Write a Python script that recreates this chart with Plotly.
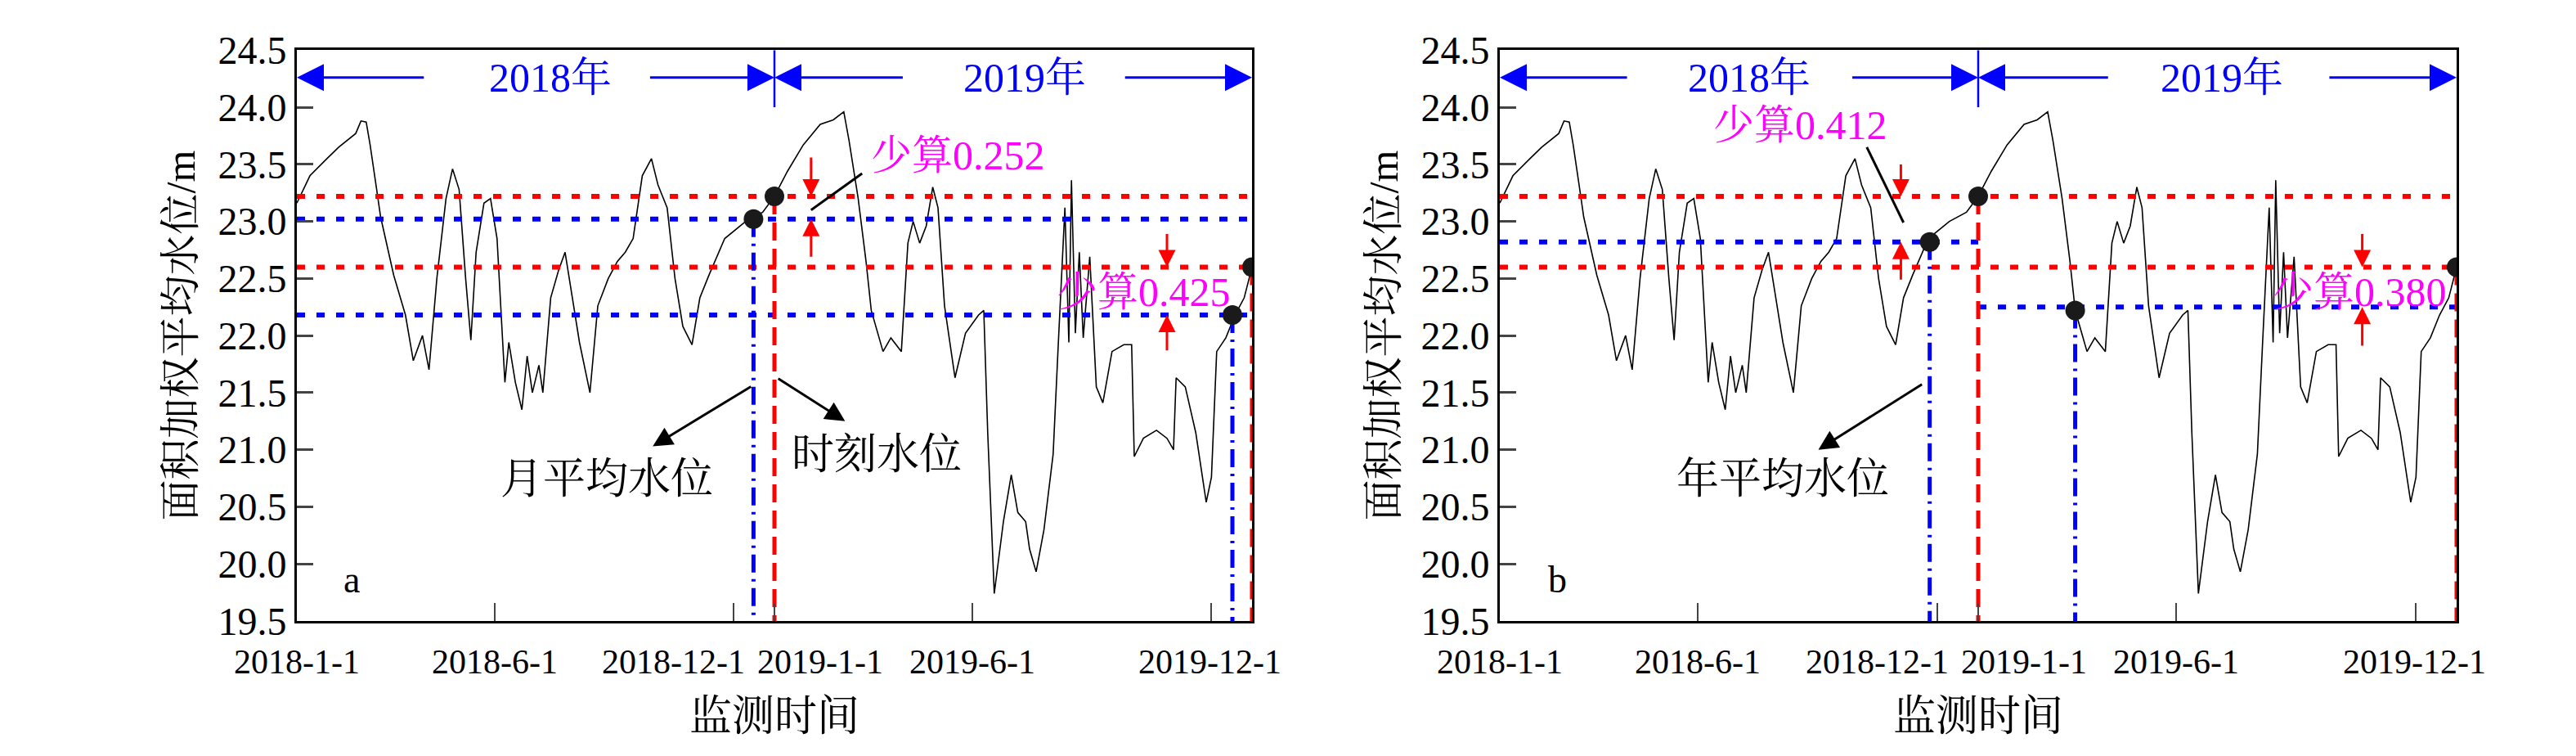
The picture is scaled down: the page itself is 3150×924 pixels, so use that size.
import plotly.graph_objects as go
from plotly.subplots import make_subplots

# days since 2018-01-01 and area-weighted mean water level (m)
days = [0, 10, 23, 32, 45, 49, 53, 56, 61, 64, 74, 83, 89, 96, 101, 107, 114, 119, 124, 129,
        133, 137, 143, 148, 153, 159, 162, 167, 172, 176, 180, 185, 188, 194, 200, 205, 210, 216,
        224, 230, 238, 245, 251, 257, 264, 271, 276, 283, 289, 295, 302, 308, 315, 327, 343, 356,
        365, 375, 387, 400, 410, 418, 422, 429, 435, 439, 448, 454, 462, 467, 471, 476, 481, 486,
        490, 495, 503, 511, 521, 525, 528, 533, 540, 546, 551, 557, 560, 565, 571, 578, 582, 587,
        590, 592, 595, 598, 601, 606, 611, 616, 623, 632, 638, 640, 647, 657, 665, 670, 672, 679,
        687, 695, 699, 703, 710, 717, 724, 730]
level = [23.16, 23.40, 23.55, 23.65, 23.77, 23.88, 23.87, 23.67, 23.28, 23.04, 22.53, 22.18, 21.78,
         22.00, 21.70, 22.50, 23.20, 23.46, 23.28, 22.50, 21.96, 22.73, 23.16, 23.20, 22.85, 21.59,
         21.94, 21.59, 21.35, 21.82, 21.50, 21.74, 21.50, 22.33, 22.57, 22.73, 22.37, 21.94, 21.50,
         22.26, 22.50, 22.65, 22.73, 22.85, 23.40, 23.55, 23.32, 23.12, 22.50, 22.08, 21.92, 22.33,
         22.53, 22.85, 23.00, 23.08, 23.22, 23.44, 23.67, 23.85, 23.89, 23.96, 23.71, 23.20, 22.65,
         22.22, 21.86, 21.98, 21.86, 22.81, 23.00, 22.81, 22.96, 23.30, 23.12, 22.26, 21.63, 22.02,
         22.18, 22.22, 21.15, 19.74, 20.37, 20.78, 20.45, 20.37, 20.13, 19.93, 20.30, 20.96, 21.94,
         23.12, 21.94, 23.36, 22.02, 22.73, 21.98, 22.69, 21.55, 21.41, 21.86, 21.92, 21.92, 20.94,
         21.10, 21.17, 21.10, 21.00, 21.63, 21.55, 21.15, 20.54, 20.76, 21.86, 21.98, 22.18, 22.33,
         22.60]

tick_days = [0, 151, 334, 365, 516, 699]
tick_text = ["2018-1-1", "2018-6-1", "2018-12-1", "2019-1-1", "2019-6-1", "2019-12-1"]
label_days = [0, 151, 288, 400, 516, 698]

moment_level = [23.22, 22.60]
# panel a: monthly means, panel b: yearly means
month_mean = [23.02, 22.18]
year_mean = [22.82, 22.25]
month_days = [349, 715]
year_days = [328, 439]
moment_days = [365, 730]

FONT = "Liberation Serif, Noto Serif CJK SC, Noto Sans CJK SC, serif"
BLUE = "#0000FF"
RED = "#FF0000"
MAG = "#FF00FF"
DOT = "10px,14px"

fig = make_subplots(rows=1, cols=2)
fig.update_layout(
    width=3150, height=924, paper_bgcolor="white", plot_bgcolor="white", showlegend=False,
    margin={"l": 0, "r": 0, "t": 0, "b": 0},
    font={"family": FONT, "size": 46, "color": "black"},
    xaxis={"domain": [355 / 3150, 1523 / 3150]},
    xaxis2={"domain": [1826 / 3150, 2996 / 3150]},
    yaxis={"domain": [155 / 924, 895 / 924]},
    yaxis2={"domain": [155 / 924, 895 / 924]},
)
fig.update_xaxes(range=[0, 730], tickvals=tick_days, showticklabels=False, ticks="inside", ticklen=22,
                 tickwidth=2, showline=True, linewidth=3, linecolor="black", mirror=True, showgrid=False,
                 zeroline=False)
fig.update_yaxes(range=[19.5, 24.5], dtick=0.5, tickformat=".1f", ticks="inside", ticklen=20, tickwidth=3,
                 showline=True, linewidth=3, linecolor="black", mirror=True, showgrid=False, zeroline=False,
                 tickfont={"size": 48},
                 title={"text": "面积加权平均水位/m", "font": {"size": 50}, "standoff": 12})


def hline(col, y, x0, x1, color):
    fig.add_trace(go.Scatter(x=[x0, x1], y=[y, y], mode="lines",
                             line={"color": color, "width": 6, "dash": DOT}), row=1, col=col)


def vline(col, x, y, color, dash):
    fig.add_trace(go.Scatter(x=[x, x], y=[y, 19.5], mode="lines",
                             line={"color": color, "width": 5, "dash": dash}), row=1, col=col)


def arrow(col, x, y, ax, ay, color, width=3, size=2.2):
    xr = "x" if col == 1 else "x2"
    yr = "y" if col == 1 else "y2"
    fig.add_annotation(x=x, y=y, ax=ax, ay=ay, xref=xr, yref=yr, axref=xr, ayref=yr, text="",
                       showarrow=True, arrowhead=2, arrowsize=size, arrowwidth=width, arrowcolor=color)


def text(col, x, y, s, color="black", size=50):
    xr = "x" if col == 1 else "x2"
    yr = "y" if col == 1 else "y2"
    fig.add_annotation(x=x, y=y, xref=xr, yref=yr, text=s, showarrow=False,
                       font={"color": color, "size": size, "family": FONT})


def segment(col, x0, y0, x1, y1, color, width=3):
    fig.add_trace(go.Scatter(x=[x0, x1], y=[y0, y1], mode="lines",
                             line={"color": color, "width": width}), row=1, col=col)


for col in (1, 2):
    fig.add_trace(go.Scatter(x=days, y=level, mode="lines", line={"color": "black", "width": 1.6}),
                  row=1, col=col)
    for y in moment_level:
        hline(col, y, 0, 730, RED)

# panel a reference lines
for y in month_mean:
    hline(1, y, 0, 730, BLUE)
for d, y in zip(month_days, month_mean):
    vline(1, d, y, BLUE, "22px,8px,3px,8px")
for d, y in zip(moment_days, moment_level):
    vline(1, d, y, RED, "22px,10px")

# panel b reference lines
hline(2, year_mean[0], 0, 365, BLUE)
hline(2, year_mean[1], 365, 730, BLUE)
for d, y in zip(year_days, year_mean):
    vline(2, d, y - 0.03 if d > 400 else y, BLUE, "22px,8px,3px,8px")
for d, y in zip(moment_days, moment_level):
    vline(2, d, y, RED, "22px,10px")

# black dots
fig.add_trace(go.Scatter(x=month_days + moment_days, y=month_mean + moment_level, mode="markers",
                         marker={"color": "#1a1a1a", "size": 24}), row=1, col=1)
fig.add_trace(go.Scatter(x=year_days + moment_days, y=[22.82, 22.22] + moment_level, mode="markers",
                         marker={"color": "#1a1a1a", "size": 24}), row=1, col=2)

# year arrows
for col, spans in ((1, [(98, 194, 269), (464, 556, 632)]), (2, [(98, 190, 268), (465, 551, 632)])):
    (t1, c1, u1), (t2, c2, u2) = spans
    arrow(col, 0, 24.26, t1, 24.26, BLUE)
    arrow(col, 365, 24.26, u1, 24.26, BLUE)
    arrow(col, 365, 24.26, t2, 24.26, BLUE)
    arrow(col, 730, 24.26, u2, 24.26, BLUE)
    text(col, c1, 24.26, "2018年", BLUE)
    text(col, c2, 24.26, "2019年", BLUE)
    segment(col, 365, 24.5, 365, 24.0, BLUE, 2.5)

# panel a annotations
arrow(1, 393, 23.22, 393, 23.57, RED, 3, 1.4)
arrow(1, 393, 23.02, 393, 22.68, RED, 3, 1.4)
arrow(1, 665, 22.60, 665, 22.90, RED, 3, 1.4)
arrow(1, 665, 22.18, 665, 21.86, RED, 3, 1.4)
segment(1, 432, 23.42, 393, 23.10, "black")
text(1, 505, 23.58, "少算0.252", MAG)
text(1, 647, 22.38, "少算0.425", MAG)
arrow(1, 272, 21.03, 348, 21.56, "black", 3, 1.6)
arrow(1, 419, 21.25, 367, 21.63, "black", 3, 1.6)
text(1, 237, 20.74, "月平均水位", size=52)
text(1, 443, 20.96, "时刻水位", size=52)
text(1, 42, 19.86, "a", size=46)

# panel b annotations
arrow(2, 306, 23.22, 306, 23.51, RED, 3, 1.4)
arrow(2, 306, 22.82, 306, 22.48, RED, 3, 1.4)
arrow(2, 658, 22.60, 658, 22.90, RED, 3, 1.4)
arrow(2, 658, 22.25, 658, 21.90, RED, 3, 1.4)
segment(2, 280, 23.65, 308, 22.99, "black")
text(2, 229, 23.84, "少算0.412", MAG)
text(2, 656, 22.38, "少算0.380", MAG)
arrow(2, 243, 21.00, 323, 21.58, "black", 3, 1.6)
text(2, 216, 20.74, "年平均水位", size=52)
text(2, 44, 19.86, "b", size=46)

# x tick labels and titles
for xr in ("x", "x2"):
    for d, s in zip(label_days, tick_text):
        fig.add_annotation(x=d, y=102 / 924, xref=xr, yref="paper", text=s, showarrow=False,
                           yanchor="middle", font={"size": 42})
    fig.add_annotation(x=365, y=31 / 924, xref=xr, yref="paper", text="监测时间", showarrow=False,
                       yanchor="middle", font={"size": 52})

fig.write_html("out.html")
